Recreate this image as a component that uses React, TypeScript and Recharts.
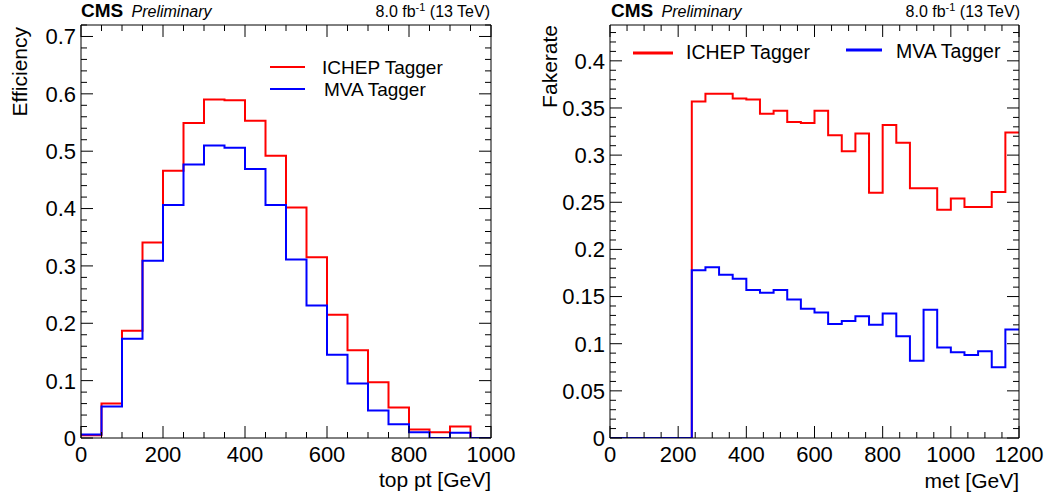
import { LineChart, Line, XAxis, YAxis } from 'recharts';

// top pt bins (lower edges, GeV)
const ptBinLow = [0, 50, 100, 150, 200, 250, 300, 350, 400, 450, 500, 550, 600, 650, 700, 750, 800, 850, 900, 950];
const ptMax = 1000;
const ichepEff = [0.005, 0.06, 0.187, 0.341, 0.466, 0.549, 0.59, 0.589, 0.553, 0.492, 0.402, 0.315, 0.215, 0.153, 0.097, 0.053, 0.015, 0.01, 0.02, 0];
const mvaEff = [0.006, 0.055, 0.173, 0.309, 0.406, 0.477, 0.51, 0.506, 0.469, 0.406, 0.311, 0.231, 0.145, 0.095, 0.048, 0.024, 0.01, 0, 0.009, 0];

// met bins (lower edges, GeV)
const metBinLow = [0, 40, 80, 120, 160, 200, 240, 280, 320, 360, 400, 440, 480, 520, 560, 600, 640, 680, 720, 760, 800, 840, 880, 920, 960, 1000, 1040, 1080, 1120, 1160];
const metMax = 1200;
const ichepFake = [0, 0, 0, 0, 0, 0, 0.357, 0.365, 0.365, 0.36, 0.359, 0.344, 0.347, 0.335, 0.334, 0.347, 0.321, 0.304, 0.323, 0.26, 0.332, 0.313, 0.265, 0.265, 0.242, 0.254, 0.245, 0.245, 0.261, 0.324];
const mvaFake = [0, 0, 0, 0, 0, 0, 0.178, 0.181, 0.173, 0.169, 0.157, 0.154, 0.157, 0.147, 0.137, 0.133, 0.121, 0.124, 0.129, 0.12, 0.132, 0.108, 0.082, 0.136, 0.096, 0.091, 0.088, 0.092, 0.075, 0.115];

// tick labels
const ptTicks = [0, 200, 400, 600, 800, 1000];
const ptTickLabels = ['0', '200', '400', '600', '800', '1000'];
const effTicks = [0, 0.1, 0.2, 0.3, 0.4, 0.5, 0.6, 0.7];
const effTickLabels = ['0', '0.1', '0.2', '0.3', '0.4', '0.5', '0.6', '0.7'];
const metTicks = [0, 200, 400, 600, 800, 1000, 1200];
const metTickLabels = ['0', '200', '400', '600', '800', '1000', '1200'];
const fakeTicks = [0, 0.05, 0.1, 0.15, 0.2, 0.25, 0.3, 0.35, 0.4];
const fakeTickLabels = ['0', '0.05', '0.1', '0.15', '0.2', '0.25', '0.3', '0.35', '0.4'];

const RED = '#ff0000';
const BLUE = '#0000ff';
const FONT = '"Liberation Sans", Arial, Helvetica, sans-serif';

// histogram -> step points (lower edges + closing upper edge)
function histRows(low: number[], max: number, a: number[], b: number[]) {
  const rows = low.map((x, i) => ({ x, a: a[i], b: b[i] }));
  rows.push({ x: max, a: a[a.length - 1], b: b[b.length - 1] });
  return rows;
}

// minor tick positions (axis decoration only)
function minorTicks(to: number, step: number) {
  const n = Math.floor(to / step + 1e-9);
  return Array.from({ length: n + 1 }, (_, i) => +(i * step).toFixed(4));
}

type Side = 'bottom' | 'top' | 'left' | 'right';

function makeTick(side: Side, majors: number[], labels?: string[]) {
  return (props: any) => {
    const { x, y, payload } = props;
    const idx = majors.findIndex((m) => Math.abs(m - payload.value) < 1e-6);
    const len = idx >= 0 ? 12 : 6;
    let line;
    if (side === 'bottom') line = <line x1={x} x2={x} y1={y} y2={y - len} stroke="#000" />;
    else if (side === 'top') line = <line x1={x} x2={x} y1={y} y2={y + len} stroke="#000" />;
    else if (side === 'left') line = <line x1={x} x2={x + len} y1={y} y2={y} stroke="#000" />;
    else line = <line x1={x} x2={x - len} y1={y} y2={y} stroke="#000" />;
    let label = null;
    if (labels && idx >= 0) {
      if (side === 'bottom') {
        label = (
          <text x={x} y={y + 24} textAnchor="middle" fontSize={22} fontFamily={FONT} fill="#000">
            {labels[idx]}
          </text>
        );
      } else if (side === 'left') {
        label = (
          <text x={x - 5} y={y} dy="0.36em" textAnchor="end" fontSize={22} fontFamily={FONT} fill="#000">
            {labels[idx]}
          </text>
        );
      }
    }
    return (
      <g>
        {line}
        {label}
      </g>
    );
  };
}

interface HistPanelProps {
  rows: { x: number; a: number; b: number }[];
  xMax: number;
  yMax: number;
  xMajors: number[];
  xLabels: string[];
  xMinor: number[];
  yMajors: number[];
  yLabels: string[];
  yMinor: number[];
  width: number;
  left: number;
  right: number;
}

function HistPanel(p: HistPanelProps) {
  const axisLine = { stroke: '#000', strokeWidth: 1 };
  return (
    <LineChart width={p.width} height={494} data={p.rows} margin={{ top: 0, right: 0, bottom: 0, left: 0 }}>
      <XAxis
        xAxisId="b"
        dataKey="x"
        type="number"
        domain={[0, p.xMax]}
        allowDataOverflow
        ticks={p.xMinor}
        interval={0}
        height={56}
        tickSize={0}
        tickMargin={0}
        tickLine={false}
        axisLine={axisLine}
        tick={makeTick('bottom', p.xMajors, p.xLabels)}
      />
      <XAxis
        xAxisId="t"
        orientation="top"
        dataKey="x"
        type="number"
        domain={[0, p.xMax]}
        allowDataOverflow
        ticks={p.xMinor}
        interval={0}
        height={25}
        tickSize={0}
        tickMargin={0}
        tickLine={false}
        axisLine={axisLine}
        tick={makeTick('top', p.xMajors)}
      />
      <YAxis
        yAxisId="l"
        type="number"
        domain={[0, p.yMax]}
        allowDataOverflow
        ticks={p.yMinor}
        interval={0}
        width={p.left}
        tickSize={0}
        tickMargin={0}
        tickLine={false}
        axisLine={axisLine}
        tick={makeTick('left', p.yMajors, p.yLabels)}
      />
      <YAxis
        yAxisId="r"
        orientation="right"
        type="number"
        domain={[0, p.yMax]}
        allowDataOverflow
        ticks={p.yMinor}
        interval={0}
        width={p.right}
        tickSize={0}
        tickMargin={0}
        tickLine={false}
        axisLine={axisLine}
        tick={makeTick('right', p.yMajors)}
      />
      <Line
        xAxisId="b"
        yAxisId="l"
        type="stepAfter"
        dataKey="a"
        stroke={RED}
        strokeWidth={2}
        dot={false}
        isAnimationActive={false}
      />
      <Line
        xAxisId="b"
        yAxisId="l"
        type="stepAfter"
        dataKey="b"
        stroke={BLUE}
        strokeWidth={2}
        dot={false}
        isAnimationActive={false}
      />
    </LineChart>
  );
}

function Header({ x0, x1 }: { x0: number; x1: number }) {
  return (
    <g fontFamily={FONT} fill="#000">
      <text x={x0} y={17} fontSize={19} fontWeight="bold">CMS</text>
      <text x={x0 + 50.5} y={17} fontSize={16} fontStyle="italic">Preliminary</text>
      <text x={x1} y={17} fontSize={16} textAnchor="end">
        8.0 fb<tspan fontSize={11} dy={-6}>-1</tspan>
        <tspan dy={6}> (13 TeV)</tspan>
      </text>
    </g>
  );
}

export default function App() {
  const effRows = histRows(ptBinLow, ptMax, ichepEff, mvaEff);
  const fakeRows = histRows(metBinLow, metMax, ichepFake, mvaFake);
  return (
    <div style={{ position: 'absolute', left: 0, top: 0, width: 1053, height: 494, background: '#fff' }}>
      <div style={{ position: 'absolute', left: 0, top: 0 }}>
        <HistPanel
          rows={effRows}
          xMax={ptMax}
          yMax={0.72}
          xMajors={ptTicks}
          xLabels={ptTickLabels}
          xMinor={minorTicks(ptMax, 50)}
          yMajors={effTicks}
          yLabels={effTickLabels}
          yMinor={minorTicks(0.72, 0.02)}
          width={526}
          left={81}
          right={35}
        />
      </div>
      <div style={{ position: 'absolute', left: 526, top: 0 }}>
        <HistPanel
          rows={fakeRows}
          xMax={metMax}
          yMax={0.438}
          xMajors={metTicks}
          xLabels={metTickLabels}
          xMinor={minorTicks(metMax, 50)}
          yMajors={fakeTicks}
          yLabels={fakeTickLabels}
          yMinor={minorTicks(0.43, 0.01)}
          width={527}
          left={84}
          right={34}
        />
      </div>
      <svg
        width={1053}
        height={494}
        style={{ position: 'absolute', left: 0, top: 0, pointerEvents: 'none' }}
      >
        <Header x0={81} x1={490} />
        <Header x0={611} x1={1020} />
        <g fontFamily={FONT} fill="#000" fontSize={21}>
          <text x={491} y={487} textAnchor="end">top pt [GeV]</text>
          <text x={1019} y={488} textAnchor="end">met [GeV]</text>
          <text transform="translate(27,27) rotate(-90)" textAnchor="end">Efficiency</text>
          <text transform="translate(557,25) rotate(-90)" textAnchor="end">Fakerate</text>
        </g>
        {/* legends */}
        <g fontFamily={FONT} fill="#000" fontSize={19}>
          <line x1={270} x2={305} y1={67} y2={67} stroke={RED} strokeWidth={2} />
          <text x={322} y={74}>ICHEP Tagger</text>
          <line x1={270} x2={305} y1={89} y2={89} stroke={BLUE} strokeWidth={2} />
          <text x={324} y={96}>MVA Tagger</text>
          <line x1={633} x2={673} y1={53} y2={53} stroke={RED} strokeWidth={3} />
          <text x={686} y={59} fontSize={19.5}>ICHEP Tagger</text>
          <line x1={846} x2={882} y1={50} y2={50} stroke={BLUE} strokeWidth={3} />
          <text x={896} y={58} fontSize={19.5}>MVA Tagger</text>
        </g>
      </svg>
    </div>
  );
}
